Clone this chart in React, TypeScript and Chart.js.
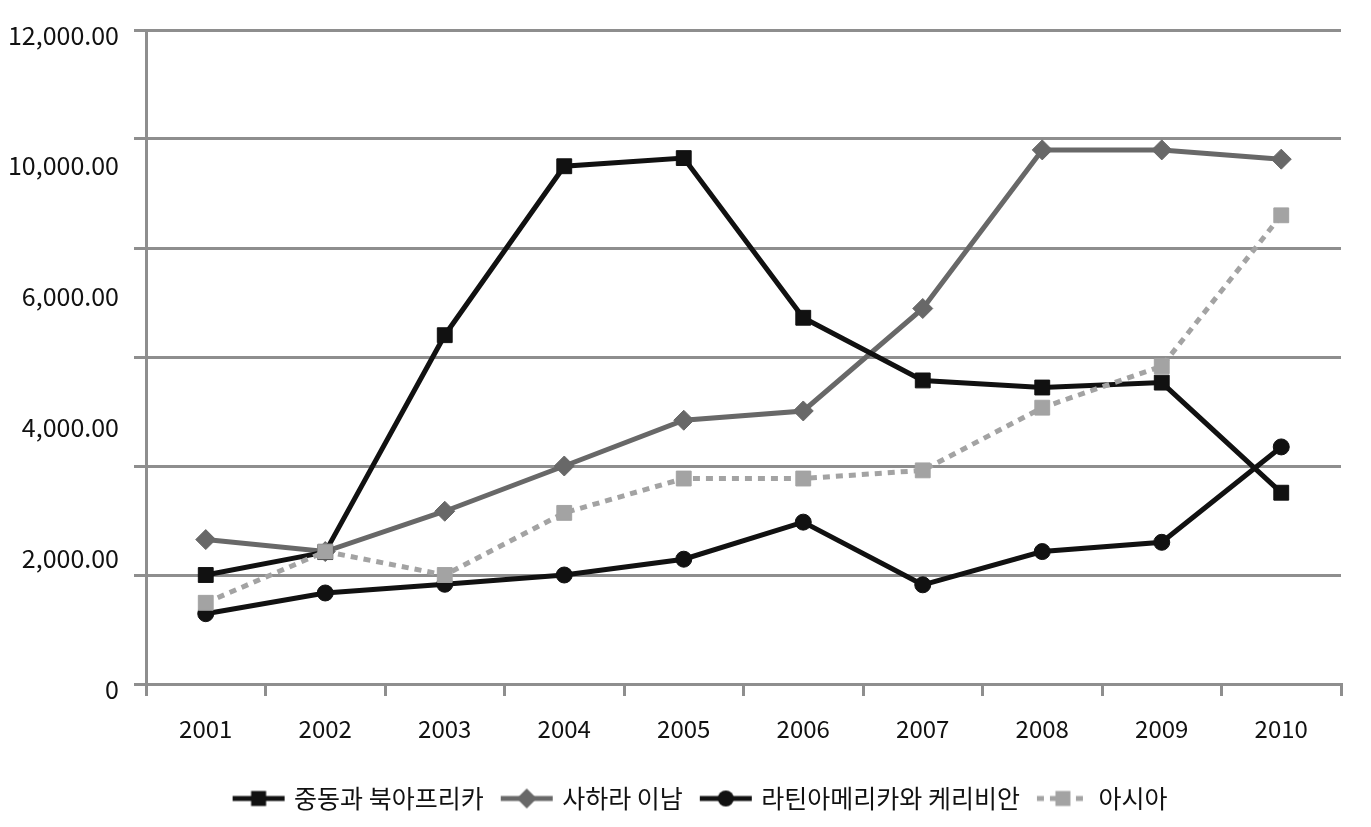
import React, { useEffect, useRef } from 'react';
import { Chart, registerables } from 'chart.js';

Chart.register(...registerables);

// ---- data ----
const years = ['2001', '2002', '2003', '2004', '2005', '2006', '2007', '2008', '2009', '2010'];
const seriesNames = ['중동과 북아프리카', '사하라 이남', '라틴아메리카와 케리비안', '아시아'];
const menaValues = [2000, 2420, 6400, 9500, 9650, 6720, 5570, 5440, 5530, 3510];
const saharaValues = [2650, 2430, 3170, 4000, 4840, 5010, 6890, 9800, 9800, 9630];
const latinValues = [1290, 1670, 1830, 2000, 2290, 2970, 1820, 2430, 2600, 4350];
const asiaValues = [1490, 2430, 2000, 3140, 3770, 3770, 3920, 5070, 5830, 8600];
// tick labels as printed on the original (evenly spaced, 8,000.00 missing)
const yTickLabels = ['0', '2,000.00', '4,000.00', '6,000.00', '10,000.00', '12,000.00'];
const yGridMax = 12000;
const yGridStep = 2000;

const FONT = "'Noto Sans CJK KR', 'Noto Sans', sans-serif";
const GRID = '#8e8e8e';
const TEXT = '#111111';
const W = 1371;
const H = 827;
const LEGEND_SHIFT = 31;

type Marker = 'rect' | 'rectRot' | 'circle';

function makeSymbol(color: string, marker: Marker, dash: number[] | null) {
  const c = document.createElement('canvas');
  c.width = 56;
  c.height = 24;
  const ctx = c.getContext('2d')!;
  ctx.strokeStyle = color;
  ctx.fillStyle = color;
  ctx.lineWidth = 5;
  if (dash) ctx.setLineDash(dash);
  ctx.beginPath();
  ctx.moveTo(2, 12);
  ctx.lineTo(54, 12);
  ctx.stroke();
  ctx.setLineDash([]);
  ctx.beginPath();
  if (marker === 'rect') {
    ctx.rect(28 - 7.5, 12 - 7.5, 15, 15);
  } else if (marker === 'rectRot') {
    ctx.moveTo(28 - 10, 12);
    ctx.lineTo(28, 2);
    ctx.lineTo(38, 12);
    ctx.lineTo(28, 22);
    ctx.closePath();
  } else {
    ctx.arc(28, 12, 8, 0, Math.PI * 2);
  }
  ctx.fill();
  return c;
}

const legendShiftPlugin = {
  id: 'legendShift',
  afterLayout(chart: any) {
    if (chart.legend) {
      chart.legend.left += LEGEND_SHIFT;
      chart.legend.right += LEGEND_SHIFT;
    }
  },
};

export default function App() {
  const ref = useRef<HTMLCanvasElement>(null);

  useEffect(() => {
    const canvas = ref.current;
    if (!canvas) return;

    const styles = [
      { color: '#111111', marker: 'rect' as Marker, radius: 10.5, dash: null as number[] | null, order: 2 },
      { color: '#686868', marker: 'rectRot' as Marker, radius: 10, dash: null, order: 3 },
      { color: '#111111', marker: 'circle' as Marker, radius: 8, dash: null, order: 1 },
      { color: '#a3a3a3', marker: 'rect' as Marker, radius: 10.5, dash: [7, 6], order: 0 },
    ];
    const values = [menaValues, saharaValues, latinValues, asiaValues];
    const symbols = styles.map((s) => makeSymbol(s.color, s.marker, s.dash));

    const chart = new Chart(canvas, {
      type: 'line',
      data: {
        labels: years,
        datasets: values.map((v, i) => ({
          label: seriesNames[i],
          data: v,
          yAxisID: 'y',
          borderColor: styles[i].color,
          backgroundColor: styles[i].color,
          borderWidth: 5,
          borderDash: styles[i].dash || [],
          pointStyle: styles[i].marker,
          pointRadius: styles[i].radius,
          pointBorderWidth: 1,
          pointBorderColor: styles[i].color,
          pointBackgroundColor: styles[i].color,
          tension: 0,
          fill: false,
          order: styles[i].order,
        })),
      },
      plugins: [legendShiftPlugin],
      options: {
        animation: false,
        responsive: false,
        devicePixelRatio: 1,
        events: [],
        layout: { padding: { left: 0, right: 30, top: 30, bottom: 6 } },
        scales: {
          x: {
            type: 'category',
            offset: true,
            grid: {
              display: true,
              drawOnChartArea: false,
              drawTicks: true,
              tickLength: 12,
              color: GRID,
              lineWidth: 3,
              offset: true,
            },
            border: { display: true, color: GRID, width: 3 },
            ticks: {
              font: { family: FONT, size: 24 },
              color: TEXT,
              padding: 18,
              maxRotation: 0,
              autoSkip: false,
            },
            afterFit: (s: any) => {
              s.height = 82;
            },
          },
          y: {
            type: 'linear',
            position: 'left',
            min: 0,
            max: yGridMax,
            ticks: { stepSize: yGridStep, display: false },
            grid: { color: GRID, lineWidth: 3, tickLength: 12, drawTicks: true },
            border: { display: true, color: GRID, width: 3 },
          },
          yl: {
            type: 'linear',
            position: 'left',
            weight: 1,
            min: 0,
            max: yTickLabels.length - 1,
            ticks: {
              stepSize: 1,
              callback: (v: any) => yTickLabels[v as number],
              font: { family: FONT, size: 25 },
              color: TEXT,
              padding: 7,
              labelOffset: 5,
            },
            grid: { display: false },
            border: { display: false },
            afterFit: (s: any) => {
              s.width = 134;
            },
          },
        },
        plugins: {
          tooltip: { enabled: false },
          legend: {
            position: 'bottom',
            align: 'center',
            labels: {
              usePointStyle: true,
              pointStyleWidth: 46,
              padding: 20,
              font: { family: FONT, size: 25 },
              color: TEXT,
              generateLabels: () =>
                seriesNames.map((name, i) => ({
                  text: name,
                  pointStyle: symbols[i] as any,
                  fillStyle: 'rgba(0,0,0,0)',
                  strokeStyle: 'rgba(0,0,0,0)',
                  lineWidth: 0,
                  hidden: false,
                  datasetIndex: i,
                  fontColor: TEXT,
                })),
            },
          },
        },
      } as any,
    });

    return () => chart.destroy();
  }, []);

  return (
    <div style={{ position: 'absolute', left: 0, top: 0, width: W, height: H, background: '#fff' }}>
      <canvas ref={ref} width={W} height={H} style={{ display: 'block', width: W, height: H }} />
    </div>
  );
}
